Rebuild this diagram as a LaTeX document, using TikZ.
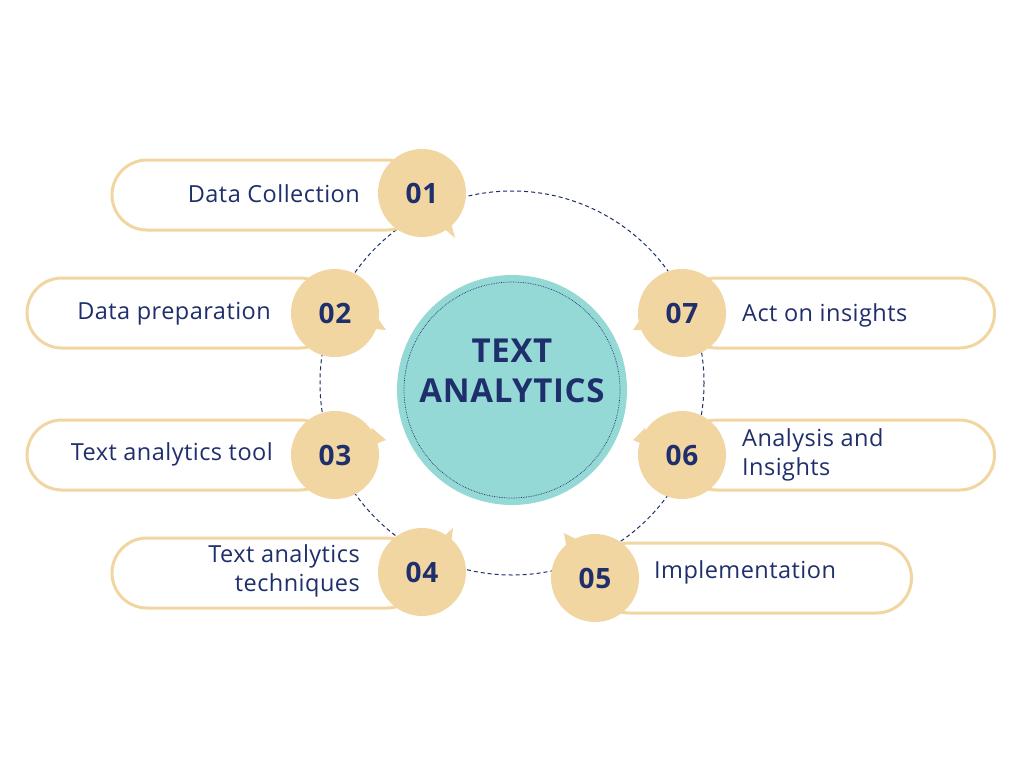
\documentclass[tikz,border=0pt]{standalone}
\usepackage{fontspec}
\setmainfont{Open Sans}[LetterSpace=2]
\begin{document}
\begin{tikzpicture}[x=1pt,y=-1pt,
  num/.style={circle,fill=beige,minimum size=88pt,inner sep=0pt,text=navy,font=\fontsize{28}{30}\selectfont\bfseries},
  pill/.style={draw=beige,line width=3pt,fill=white,rounded corners=35pt,minimum height=70pt,inner sep=0pt},
  lab/.style={text=navy,font=\fontsize{23.5}{29}\selectfont,inner sep=0pt},
  tail/.style={fill=beige}]
\definecolor{beige}{HTML}{F2D6A2}
\definecolor{navy}{HTML}{1F2F6B}
\definecolor{teal}{HTML}{95D9D6}
\fill[white] (0,0) rectangle (1024,768);
\useasboundingbox (0,0) rectangle (1024,768);
\draw[navy,dash pattern=on 4pt off 3pt,line width=1pt] (512,383) circle (192);
% pills
\node[pill,minimum width=310pt] (p1) at (267,195) {};
\node[pill,minimum width=308pt] (p2) at (181,313) {};
\node[pill,minimum width=308pt] (p3) at (181,455) {};
\node[pill,minimum width=310pt] (p4) at (267,573) {};
\node[pill,minimum width=317pt] (p5) at (753,578) {};
\node[pill,minimum width=313pt] (p6) at (838,455) {};
\node[pill,minimum width=313pt] (p7) at (838,313) {};
% tails
\fill[beige] (440,225) -- (455,238) -- (448,212) -- cycle;
\fill[beige] (372,310) -- (386,330) -- (365,328) -- cycle;
\fill[beige] (372,428) -- (386,440) -- (365,448) -- cycle;
\fill[beige] (440,540) -- (453,528) -- (450,552) -- cycle;
\fill[beige] (578,540) -- (564,533) -- (568,556) -- cycle;
\fill[beige] (645,428) -- (633,440) -- (652,448) -- cycle;
\fill[beige] (645,312) -- (633,330) -- (652,330) -- cycle;
% numbered circles
\node[num] (n1) at (422,193) {01};
\node[num] (n2) at (335,313) {02};
\node[num] (n3) at (335,455) {03};
\node[num] (n4) at (422,572) {04};
\node[num] (n5) at (595,578) {05};
\node[num] (n6) at (682,455) {06};
\node[num] (n7) at (682,313) {07};
% center
\node[circle,fill=teal,minimum size=230pt,inner sep=0pt] (c) at (512,390) {};
\draw[navy,densely dotted,line width=0.7pt] (c.center) circle (108);
\node[text=navy,font=\fontsize{33}{40}\selectfont\bfseries,align=center] (ct) at (512,371) {TEXT\\ANALYTICS};
% labels
\node[lab,anchor=east] (l1) at (360,194) {Data Collection};
\node[lab,anchor=east] (l2) at (271,314) {Data preparation};
\node[lab,anchor=east] (l3) at (273,454) {Text analytics tool};
\node[lab,anchor=east,align=right] (l4) at (360,571) {Text analytics\\techniques};
\node[lab,anchor=west] (l5) at (654,572) {Implementation};
\node[lab,anchor=west,align=left] (l6) at (742,455) {Analysis and\\Insights};
\node[lab,anchor=west] (l7) at (742,315) {Act on insights};
\end{tikzpicture}
\end{document}
